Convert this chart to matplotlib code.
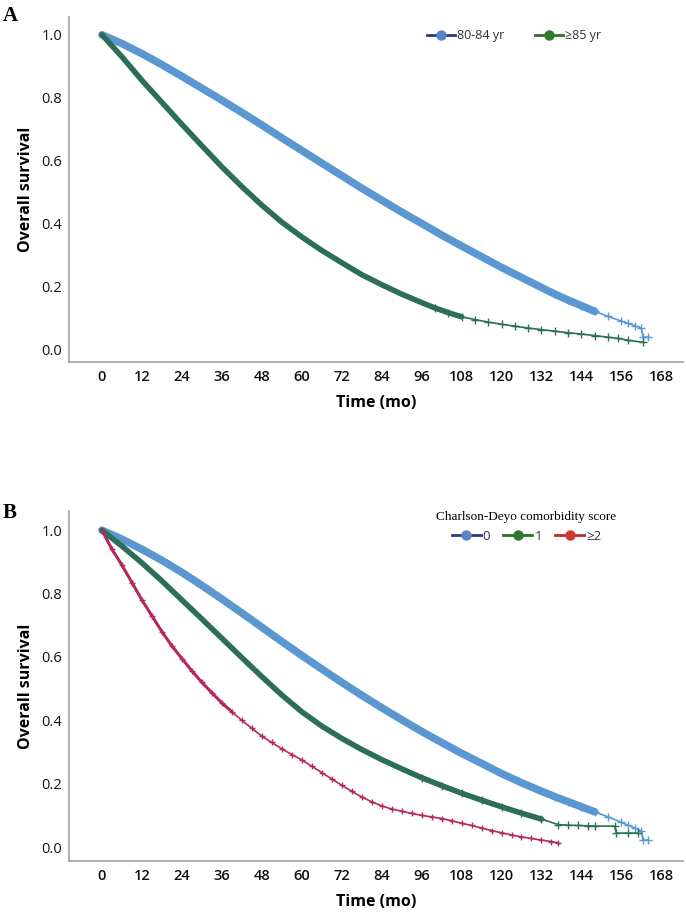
import numpy as np
import matplotlib
matplotlib.use("Agg")
import matplotlib.pyplot as plt
from matplotlib.lines import Line2D

plt.rcParams['font.family'] = ['Open Sans', 'DejaVu Sans']

# ---- panel A: age groups ----
t_a_young = [0, 6, 12, 18, 24, 30, 36, 42, 48, 54, 60, 66, 72, 78, 84, 90, 96, 102, 108, 114,
             120, 126, 132, 136, 140, 144, 148, 152, 156, 158, 160, 162, 162.5, 164]
s_a_young = [1.0, 0.972, 0.94, 0.905, 0.868, 0.83, 0.792, 0.753, 0.713, 0.672, 0.632, 0.592,
             0.552, 0.512, 0.474, 0.436, 0.4, 0.363, 0.328, 0.294, 0.26, 0.228, 0.196, 0.175,
             0.156, 0.138, 0.12, 0.104, 0.089, 0.082, 0.075, 0.067, 0.038, 0.038]

t_a_old = [0, 6, 12, 18, 24, 30, 36, 42, 48, 54, 60, 66, 72, 78, 84, 90, 96, 100, 104, 108, 112,
           116, 120, 124, 128, 132, 136, 140, 144, 148, 152, 155, 158, 162.5]
s_a_old = [1.0, 0.93, 0.855, 0.785, 0.715, 0.647, 0.58, 0.517, 0.458, 0.404, 0.357, 0.314, 0.275,
           0.237, 0.205, 0.175, 0.148, 0.131, 0.116, 0.103, 0.094, 0.086, 0.079, 0.073, 0.067,
           0.062, 0.057, 0.052, 0.048, 0.043, 0.038, 0.034, 0.028, 0.022]

# ---- panel B: Charlson-Deyo score ----
t_b0 = [0, 6, 12, 18, 24, 30, 36, 42, 48, 54, 60, 66, 72, 78, 84, 90, 96, 102, 108, 114, 120,
        126, 132, 136, 140, 144, 148, 152, 156, 158, 160, 162, 162.5, 164]
s_b0 = [1.0, 0.972, 0.94, 0.905, 0.867, 0.826, 0.783, 0.739, 0.694, 0.649, 0.605, 0.562, 0.52,
        0.479, 0.44, 0.402, 0.365, 0.33, 0.296, 0.264, 0.232, 0.203, 0.176, 0.159, 0.143, 0.127,
        0.111, 0.095, 0.078, 0.069, 0.06, 0.05, 0.022, 0.022]

t_b1 = [0, 6, 12, 18, 24, 30, 36, 42, 48, 54, 60, 66, 72, 78, 84, 90, 96, 102, 108, 114, 120,
        126, 132, 137, 140, 143, 146, 148, 154, 154.5, 158, 161]
s_b1 = [1.0, 0.95, 0.897, 0.84, 0.78, 0.72, 0.659, 0.598, 0.538, 0.48, 0.427, 0.382, 0.343,
        0.308, 0.276, 0.247, 0.219, 0.194, 0.17, 0.148, 0.127, 0.107, 0.088, 0.071, 0.069,
        0.068, 0.067, 0.066, 0.066, 0.044, 0.044, 0.044]

t_b2 = [0, 3, 6, 9, 12, 15, 18, 21, 24, 27, 30, 33, 36, 39, 42, 45, 48, 51, 54, 57, 60, 63, 66,
        69, 72, 75, 78, 81, 84, 87, 90, 93, 96, 99, 102, 105, 108, 111, 114, 117, 120, 123,
        126, 129, 132, 135, 137]
s_b2 = [1.0, 0.94, 0.89, 0.835, 0.78, 0.73, 0.68, 0.635, 0.595, 0.556, 0.52, 0.487, 0.455,
        0.427, 0.40, 0.375, 0.35, 0.33, 0.31, 0.292, 0.275, 0.255, 0.235, 0.215, 0.195, 0.176,
        0.158, 0.143, 0.13, 0.12, 0.113, 0.106, 0.1, 0.095, 0.09, 0.083, 0.075, 0.068, 0.06,
        0.052, 0.045, 0.038, 0.032, 0.027, 0.022, 0.017, 0.013]

x_ticks = [0, 12, 24, 36, 48, 60, 72, 84, 96, 108, 120, 132, 144, 156, 168]
y_ticks = [0.0, 0.2, 0.4, 0.6, 0.8, 1.0]

BLUE = '#5b97d0'
TEAL = '#2d6e5a'
MAGENTA = '#b5285f'


def km(ax, t, s, color, lw_dense, dense_end, mark_from, ms=5.5):
    t = np.array(t)
    s = np.array(s)
    ax.plot(t, s, color=color, lw=1.2, solid_joinstyle='miter')
    d = t <= dense_end
    ax.plot(t[d], s[d], color=color, lw=lw_dense, solid_capstyle='round')
    m = t >= mark_from
    ax.plot(t[m], s[m], ls='none', marker='+', ms=ms, mew=1.0, color=color)


def style(ax):
    ax.set_xlim(-9.9, 174.5)
    ax.set_xticks(x_ticks)
    ax.set_yticks(y_ticks)
    ax.set_yticklabels([f'{v:.1f}' for v in y_ticks])
    for sp in ['top', 'right']:
        ax.spines[sp].set_visible(False)
    for sp in ['left', 'bottom']:
        ax.spines[sp].set_color('#9a9a9a')
        ax.spines[sp].set_linewidth(1.1)
    ax.tick_params(length=0)
    ax.tick_params(axis='y', labelsize=10.5, pad=5, colors='#111111')
    ax.tick_params(axis='x', labelsize=10.5, pad=5.5, colors='#111111')
    for lab in ax.get_xticklabels():
        lab.set_fontweight('semibold')
    ax.set_xlabel('Time (mo)', fontsize=11.5, fontweight='bold', labelpad=8)
    ax.set_ylabel('Overall survival', fontsize=11.5, fontweight='bold', labelpad=5)


fig = plt.figure(figsize=(6.86, 9.13), dpi=100)
axA = fig.add_axes([0.1006, 0.6035, 0.895, 0.378])
axB = fig.add_axes([0.1006, 0.057, 0.895, 0.383])

km(axA, t_a_young, s_a_young, BLUE, 5.5, 150, 136)
km(axA, t_a_old, s_a_old, TEAL, 4.0, 108, 100)
axA.set_ylim(-0.041, 1.057)
style(axA)

km(axB, t_b0, s_b0, BLUE, 5.5, 150, 136)
km(axB, t_b1, s_b1, TEAL, 4.0, 132, 96)
km(axB, t_b2, s_b2, MAGENTA, 2.2, 40, 3, ms=4.5)
axB.set_ylim(-0.044, 1.06)
style(axB)

hA = [Line2D([], [], color='#2b3a7a', lw=2, marker='o', ms=6.5, mfc='#5b84c8', mec='#5b84c8'),
      Line2D([], [], color='#2f6e2f', lw=2, marker='o', ms=6.5, mfc='#2f7a2f', mec='#2f7a2f')]
axA.legend(hA, ['80-84 yr', '≥85 yr'], ncol=2, frameon=False, loc='center',
           bbox_to_anchor=(0.725, 0.945), fontsize=9, handlelength=2.2, handletextpad=0.15,
           columnspacing=2.5, labelcolor='#333333')

hB = [Line2D([], [], color='#2b3a7a', lw=2, marker='o', ms=6.5, mfc='#5b84c8', mec='#5b84c8'),
      Line2D([], [], color='#2f6e2f', lw=2, marker='o', ms=6.5, mfc='#2f7a2f', mec='#2f7a2f'),
      Line2D([], [], color='#c0282d', lw=2, marker='o', ms=6.5, mfc='#d03a30', mec='#d03a30')]
legB = axB.legend(hB, ['0', '1', '≥2'], ncol=3, frameon=False, loc='center',
                  bbox_to_anchor=(0.745, 0.955), fontsize=9.5, handlelength=2.2,
                  handletextpad=0.15, columnspacing=1.0, labelcolor='#333333',
                  title='Charlson-Deyo comorbidity score',
                  title_fontproperties={'family': 'Liberation Serif', 'size': 9.5})
legB._legend_box.align = 'center'

fig.text(0.004, 0.983, 'A', fontsize=15, fontweight='bold', family='Liberation Serif', va='center')
fig.text(0.004, 0.438, 'B', fontsize=15, fontweight='bold', family='Liberation Serif', va='center')

fig.savefig('out.png', dpi=100)
